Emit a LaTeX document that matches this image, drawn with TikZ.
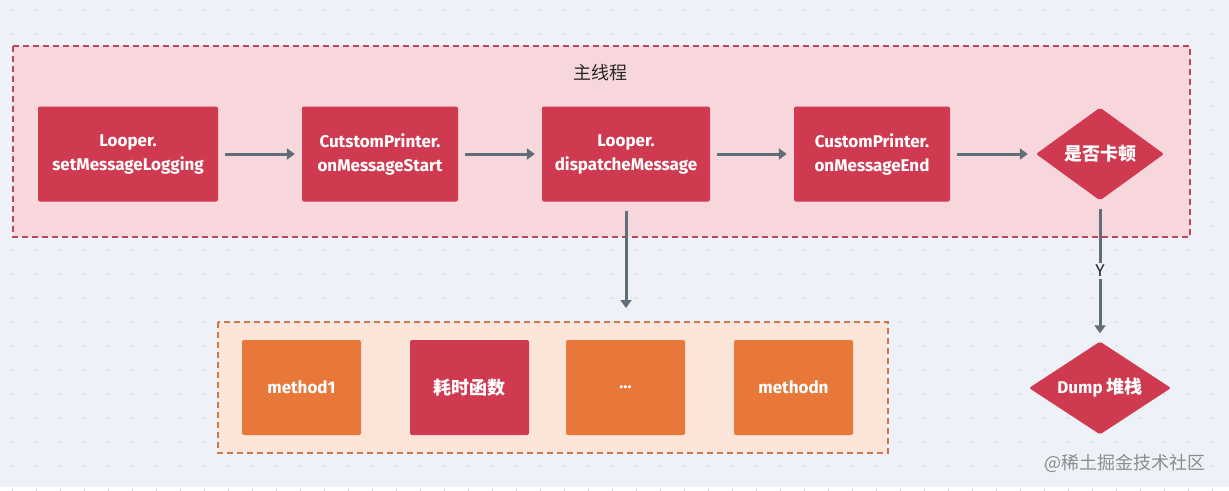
\documentclass[tikz,border=0pt]{standalone}
\usepackage{fontspec}
\setmainfont{Fira Sans}
\newfontfamily\cjk{Noto Sans CJK SC}
\usetikzlibrary{arrows.meta,shapes.geometric}
\definecolor{bgblue}{HTML}{EEF2F8}
\definecolor{dotgray}{HTML}{C3CAD3}
\definecolor{mainfill}{HTML}{F7D6DC}
\definecolor{mainline}{HTML}{B8475F}
\definecolor{callfill}{HTML}{FBE5D8}
\definecolor{callline}{HTML}{C9774B}
\definecolor{boxred}{HTML}{D03A50}
\definecolor{boxorange}{HTML}{E8783A}
\definecolor{arrowgray}{HTML}{5F6E78}
\begin{document}
\begin{tikzpicture}[x=1pt, y=-1pt,
    redbox/.style={fill=boxred, rounded corners=2pt, minimum height=95pt, text=white, align=center, font=\bfseries\fontsize{17}{24}\selectfont},
    orangebox/.style={redbox, fill=boxorange, minimum width=119pt},
    decision/.style={diamond, fill=boxred, inner sep=-8pt, aspect=1.5, rounded corners=2pt, text=white, font=\bfseries\fontsize{17}{24}\selectfont},
    flow/.style={draw=arrowgray, line width=3pt, -{Triangle[length=8pt,width=11pt]}, shorten <=7pt, shorten >=7pt},
    group/.style={dashed, dash pattern=on 6pt off 4pt, line width=1.5pt},
    line cap=butt]
      % background and dots
      \fill[bgblue] (0,0) rectangle (1229,487);
      \foreach \i in {0,...,50}
        \foreach \j in {0,...,20}
          \fill[dotgray] (12.5+24*\i,10+24*\j) circle (0.9);

      % main thread
      \draw[group, fill=mainfill, draw=mainline] (13,46) rectangle (1190,237);
      \node[font=\cjk\fontsize{18}{20}\selectfont, text=black!85] (title) at (600,73) {主线程};

      \node[redbox, minimum width=180pt] (setlog) at (128,154) {Looper.\\setMessageLogging};
      \node[redbox, minimum width=156pt] (start) at (380,154) {CutstomPrinter.\\onMessageStart};
      \node[redbox, minimum width=168pt] (dispatch) at (626,154) {Looper.\\dispatcheMessage};
      \node[redbox, minimum width=156pt] (end) at (872,154) {CustomPrinter.\\onMessageEnd};
      \node[decision, minimum width=128pt, minimum height=93pt] (check) at (1100,154) {\cjk\bfseries\fontsize{18}{20}\selectfont 是否卡顿};

      \draw[flow] (setlog) -- (start);
      \draw[flow] (start) -- (dispatch);
      \draw[flow] (dispatch) -- (end);
      \draw[flow, shorten >=8pt] (end) -- (check);

      % calls inside dispatch
      \draw[group, fill=callfill, draw=callline] (218,322) rectangle (888,453);
      \coordinate (callstop) at (626,322);
      \node[orangebox] (m1) at (301.5,387.5) {method1};
      \node[orangebox, fill=boxred] (slow) at (469.5,387.5) {\cjk\bfseries\fontsize{18}{20}\selectfont 耗时函数};
      \node[orangebox] (dots) at (625.5,387.5) {...};
      \node[orangebox] (mn) at (793.5,387.5) {methodn};

      \draw[flow, shorten <=9pt, shorten >=14pt] (dispatch) -- (callstop);

      % dump
      \node[decision, minimum width=142pt, minimum height=93pt] (dump) at (1100,388) {Dump {\cjk\bfseries\fontsize{18}{20}\selectfont 堆栈}};
      \draw[flow, shorten <=8pt, shorten >=8pt] (check) -- node[fill=bgblue, inner sep=2pt, text=black!85, font=\fontsize{17}{18}\selectfont]{Y} (dump);

      \node[text=black!45, font=\cjk\fontsize{18}{20}\selectfont] (mark) at (1125,463) {@稀土掘金技术社区};
    \end{tikzpicture}
\end{document}
